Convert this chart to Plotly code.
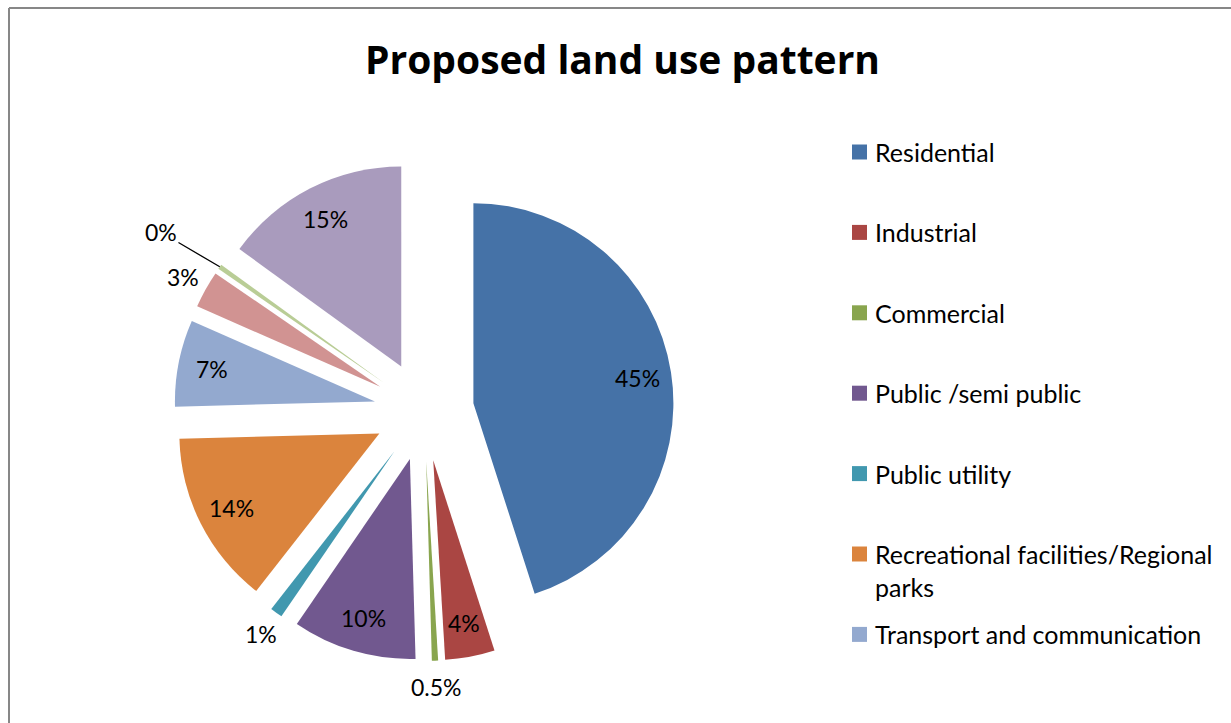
import math
import textwrap
import plotly.graph_objects as go

W, H = 1231, 723

# ---- data ----
categories = [
    "Residential",
    "Industrial",
    "Commercial",
    "Public /semi public",
    "Public utility",
    "Recreational facilities/Regional parks",
    "Transport and communication",
    "Agriculture",
    "Water bodies",
    "Others",
]
values = [45, 4, 0.5, 10, 1, 14, 7, 3, 0.4, 15]
value_labels = ["45%", "4%", "0.5%", "10%", "1%", "14%", "7%", "3%", "0%", "15%"]

# ---- styling ----
label_positions = ["inside", "inside", "outside", "inside", "outside",
                   "inside", "inside", "outside", "outside", "inside"]
colors = ["#4572A7", "#AA4643", "#89A54E", "#71588F", "#4198AF",
          "#DB843D", "#93A9CF", "#D19392", "#B9CD96", "#A99BBD"]
FONT = "Lato"
TITLE_FONT = "Open Sans"

# ---- layout constants (pixels) ----
CX, CY, R, PULL = 424, 411, 200, 0.25
box = R * (1 + PULL)


def px(x):
    return x / W


def py(y):
    return 1 - y / H


fig = go.Figure(go.Pie(
    labels=categories,
    values=values,
    textinfo="none",
    marker=dict(colors=colors, line=dict(width=0)),
    pull=[PULL] * len(values),
    sort=False,
    direction="clockwise",
    rotation=0,
    showlegend=False,
    automargin=False,
    hoverinfo="label+percent",
    domain=dict(x=[px(CX - box), px(CX + box)], y=[py(CY + box), py(CY - box)]),
))

FRAME = dict(color="#878787", width=2)
shapes = [
    dict(type="line", xref="paper", yref="paper", x0=px(9), x1=1, y0=py(8), y1=py(8), line=FRAME),
    dict(type="line", xref="paper", yref="paper", x0=px(9), x1=px(9), y0=0, y1=py(8), line=FRAME),
]
annotations = [dict(text="<b>Proposed land use pattern</b>", x=px(622), y=py(58),
                    xref="paper", yref="paper", xanchor="center", yanchor="middle",
                    showarrow=False, font=dict(family=TITLE_FONT, size=39, color="black"))]

# data labels placed along each slice's bisector (Excel-style)
LABEL_FONT = dict(family=FONT, size=23, color="black")
total = sum(values)
cum = 0.0
for v, lab, pos in zip(values, value_labels, label_positions):
    mid = (cum + v / 2) / total * 2 * math.pi
    cum += v
    dx, dy = math.sin(mid), -math.cos(mid)
    apx, apy = CX + PULL * R * dx, CY + PULL * R * dy
    if pos == "inside":
        k = 0.83
    elif v < 0.45:
        k = None
    else:
        k = 1.13
    if k is not None:
        annotations.append(dict(text=lab, x=px(apx + k * R * dx), y=py(apy + k * R * dy),
                                xref="paper", yref="paper", xanchor="center", yanchor="middle",
                                showarrow=False, font=LABEL_FONT))
    else:
        tipx, tipy = apx + R * dx, apy + R * dy
        tx, ty = apx + 1.36 * R * dx, apy + 1.30 * R * dy
        annotations.append(dict(text=lab, x=px(tipx), y=py(tipy), xref="paper", yref="paper",
                                ax=tx - tipx, ay=ty - tipy, showarrow=True, arrowhead=0,
                                arrowwidth=1.3, arrowcolor="black", standoff=0,
                                font=LABEL_FONT))

# manual legend (the reference legend is cut off by the frame)
LEG_X, LEG_Y0, LEG_DY, SQ = 852, 152, 80.4, 15
for i, (name, col) in enumerate(zip(categories, colors)):
    yc = LEG_Y0 + LEG_DY * i
    if yc + 14 > H:
        break
    shapes.append(dict(type="rect", xref="paper", yref="paper",
                       x0=px(LEG_X), x1=px(LEG_X + SQ),
                       y0=py(yc + SQ / 2), y1=py(yc - SQ / 2),
                       fillcolor=col, line=dict(width=0)))
    annotations.append(dict(text="<br>".join(textwrap.wrap(name, 32)),
                            x=px(LEG_X + 21), y=py(yc - 17),
                            xref="paper", yref="paper", xanchor="left", yanchor="top",
                            align="left", showarrow=False,
                            font=dict(family=FONT, size=25, color="black")))

fig.update_layout(
    width=W, height=H, autosize=False,
    margin=dict(l=0, r=0, t=0, b=0, pad=0, autoexpand=False),
    showlegend=False,
    paper_bgcolor="white",
    plot_bgcolor="white",
    shapes=shapes,
    annotations=annotations,
)

fig.write_html("out.html", config={"responsive": False})
